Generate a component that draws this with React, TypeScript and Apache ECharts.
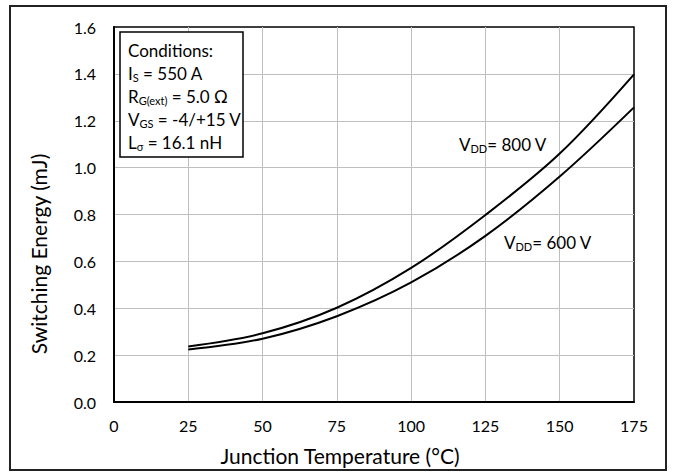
import React, { useEffect, useRef } from "react";
import * as echarts from "echarts";

const temperatures = [25, 50, 75, 100, 125, 150, 175];
const energy800 = [0.237, 0.293, 0.402, 0.572, 0.798, 1.06, 1.398];
const energy600 = [0.224, 0.27, 0.366, 0.51, 0.709, 0.962, 1.257];
const xTicks = { min: 0, max: 175, interval: 25 };
const yTicks = { min: 0, max: 1.6, interval: 0.2 };
const xTitle = "Junction Temperature (°C)";
const yTitle = "Switching Energy (mJ)";
const FONT = "Lato, 'Noto Sans', sans-serif";

export default function App() {
  const ref = useRef<HTMLDivElement>(null);
  useEffect(() => {
    if (!ref.current) return;
    const chart = echarts.init(ref.current, undefined, { renderer: "svg" });
    const n = { fontSize: 17, fontFamily: FONT, color: "#000", lineHeight: 23 };
    const s = { fontSize: 11, fontFamily: FONT, color: "#000", lineHeight: 13, padding: [8, 0, 0, 0] };
    const rich = { n, s };
    chart.setOption({
      animation: false,
      backgroundColor: "#fff",
      grid: { left: 114, right: 39, top: 27, bottom: 74, show: true, borderColor: "#000", borderWidth: 1.5 },
      xAxis: {
        type: "value",
        min: xTicks.min,
        max: xTicks.max,
        interval: xTicks.interval,
        axisLine: { show: true, lineStyle: { color: "#000", width: 2 } },
        axisTick: { show: false },
        axisLabel: { fontSize: 16, fontFamily: FONT, color: "#000", margin: 15 },
        splitLine: { show: true, showMinLine: false, showMaxLine: false, lineStyle: { color: "#bfbfbf", width: 1 } },
      },
      yAxis: {
        type: "value",
        min: yTicks.min,
        max: yTicks.max,
        interval: yTicks.interval,
        axisLine: { show: true, lineStyle: { color: "#000", width: 2 } },
        axisTick: { show: false },
        axisLabel: { fontSize: 16, fontFamily: FONT, color: "#000", margin: 18, formatter: (v: number) => v.toFixed(1) },
        splitLine: { show: true, showMinLine: false, showMaxLine: false, lineStyle: { color: "#bfbfbf", width: 1 } },
      },
      series: [
        {
          name: "VDD = 800 V",
          type: "line",
          smooth: 0.35,
          showSymbol: false,
          data: temperatures.map((t, i) => [t, energy800[i]]),
          lineStyle: { color: "#000", width: 2 },
        },
        {
          name: "VDD = 600 V",
          type: "line",
          smooth: 0.35,
          showSymbol: false,
          data: temperatures.map((t, i) => [t, energy600[i]]),
          lineStyle: { color: "#000", width: 2 },
        },
      ],
      graphic: [
        {
          type: "rect",
          shape: { x: 10, y: 6, width: 656, height: 464 },
          style: { fill: "none", stroke: "#222", lineWidth: 2 },
          z: 100,
        },
        {
          type: "text",
          x: 340,
          y: 455,
          z: 101,
          style: { text: xTitle, fontSize: 21, fontFamily: FONT, fill: "#000", align: "center", verticalAlign: "middle" },
        },
        {
          type: "text",
          x: 38,
          y: 254,
          rotation: Math.PI / 2,
          z: 101,
          style: { text: yTitle, fontSize: 21, fontFamily: FONT, fill: "#000", align: "center", verticalAlign: "middle" },
        },
        {
          type: "rect",
          shape: { x: 120, y: 32, width: 123, height: 125 },
          style: { fill: "#fff", stroke: "#000", lineWidth: 1.5 },
          z: 100,
        },
        {
          type: "text",
          x: 128,
          y: 96,
          z: 101,
          style: {
            text: [
              "{n|Conditions:}",
              "{n|I}{s|S}{n| = 550 A}",
              "{n|R}{s|G(ext)}{n| = 5.0 Ω}",
              "{n|V}{s|GS}{n| = -4/+15 V}",
              "{n|L}{s|σ}{n| = 16.1 nH}",
            ].join("\n"),
            verticalAlign: "middle",
            rich,
          },
        },
        {
          type: "text",
          x: 459,
          y: 144,
          z: 101,
          style: { text: "{n|V}{s|DD}{n|= 800 V}", verticalAlign: "middle", rich },
        },
        {
          type: "text",
          x: 504,
          y: 242,
          z: 101,
          style: { text: "{n|V}{s|DD}{n|= 600 V}", verticalAlign: "middle", rich },
        },
      ],
    });
    return () => chart.dispose();
  }, []);
  return <div ref={ref} style={{ position: "fixed", left: 0, top: 0, width: 673, height: 476 }} />;
}
